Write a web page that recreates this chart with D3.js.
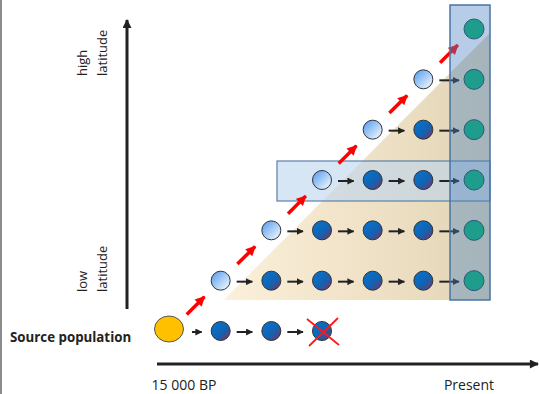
<!DOCTYPE html>
<meta charset="utf-8">
<style>
body { margin: 0; background: #fff; }
svg { display: block; font-family: "Open Sans", sans-serif; }
</style>
<body>
<script src="https://d3js.org/d3.v7.min.js"></script>
<script>

// time steps along the x axis, latitude levels along the y axis
var timeSteps = [0, 1, 2, 3, 4, 5, 6];
var timeLabels = ["15 000 BP", "", "", "", "", "", "Present"];
var latitudes = [0, 1, 2, 3, 4, 5, 6];
var latitudeLabels = [["high", "latitude"], ["low", "latitude"]];

// populations: t = time step, lat = latitude level
var sourcePops = [{t: 0, lat: 0}];
var residentPops = [{t: 1, lat: 0}, {t: 2, lat: 0}, {t: 3, lat: 0, extinct: true},
  {t: 2, lat: 1}, {t: 3, lat: 1}, {t: 4, lat: 1}, {t: 5, lat: 1},
  {t: 3, lat: 2}, {t: 4, lat: 2}, {t: 5, lat: 2},
  {t: 4, lat: 3}, {t: 5, lat: 3},
  {t: 5, lat: 4}];
var founderPops = [{t: 1, lat: 1}, {t: 2, lat: 2}, {t: 3, lat: 3}, {t: 4, lat: 4}, {t: 5, lat: 5}];
var presentPops = [{t: 6, lat: 1}, {t: 6, lat: 2}, {t: 6, lat: 3}, {t: 6, lat: 4}, {t: 6, lat: 5}, {t: 6, lat: 6}];

// colonisation steps (red) and persistence steps (black)
var colonisations = [[0, 0], [1, 1], [2, 2], [3, 3], [4, 4], [5, 5]];
var persistence = [[0, 0], [1, 0], [2, 0],
  [1, 1], [2, 1], [3, 1], [4, 1], [5, 1],
  [2, 2], [3, 2], [4, 2], [5, 2],
  [3, 3], [4, 3], [5, 3],
  [4, 4], [5, 4],
  [5, 5]];

var width = 539, height = 394;

var x = d3.scaleLinear().domain([0, 6]).range([170, 474]);
var y = d3.scaleLinear().domain([0, 6]).range([331, 29]);

var svg = d3.select("body").append("svg")
    .attr("width", width)
    .attr("height", height);

var defs = svg.append("defs");

var beige = defs.append("linearGradient").attr("id", "beige")
    .attr("x1", "0").attr("x2", "1").attr("y1", "0").attr("y2", "0");
beige.append("stop").attr("offset", "0").attr("stop-color", "#fdf0db");
beige.append("stop").attr("offset", "1").attr("stop-color", "#e2d5b5");

var dark = defs.append("linearGradient").attr("id", "dark")
    .attr("x1", "0.2").attr("y1", "0.2").attr("x2", "0.9").attr("y2", "0.9");
dark.append("stop").attr("offset", "0").attr("stop-color", "#0a6fc6");
dark.append("stop").attr("offset", "0.55").attr("stop-color", "#1262b2");
dark.append("stop").attr("offset", "1").attr("stop-color", "#6b3b72");

var light = defs.append("linearGradient").attr("id", "light")
    .attr("x1", "0.1").attr("y1", "0.1").attr("x2", "0.9").attr("y2", "0.9");
light.append("stop").attr("offset", "0").attr("stop-color", "#5ea3f0");
light.append("stop").attr("offset", "1").attr("stop-color", "#eef5fd");

function head(id, color, w, h) {
  defs.append("marker").attr("id", id)
      .attr("viewBox", "0 0 10 10").attr("refX", 9).attr("refY", 5)
      .attr("markerUnits", "userSpaceOnUse")
      .attr("markerWidth", w).attr("markerHeight", h)
      .attr("orient", "auto")
    .append("path").attr("d", "M0,0L10,5L0,10Z").attr("fill", color);
}
head("axisHead", "#222", 10, 9);
head("blackHead", "#222", 7, 7);
head("redHead", "#ff0000", 10, 11);

// left page edge
svg.append("line").attr("x1", 1).attr("x2", 1).attr("y1", 0).attr("y2", height)
    .attr("stroke", "#666").attr("stroke-width", 1.5);

// beige triangle of colonised range
svg.append("path")
    .attr("d", "M" + (x(1) + 3) + "," + (y(0) - 31) +
               "L" + (x(6) + 16) + "," + (y(0) - 31) +
               "L" + (x(6) + 16) + "," + (y(6) + 4) + "Z")
    .attr("fill", "url(#beige)");

// horizontal highlight box
svg.append("rect")
    .attr("x", x(3) - 45).attr("y", y(3) - 19)
    .attr("width", x(6) + 16 - (x(3) - 45)).attr("height", 40)
    .attr("fill", "#bcd6ee").attr("fill-opacity", 0.6)
    .attr("stroke", "#5a80a8").attr("stroke-width", 1.2);

// axes
svg.append("line").attr("x1", 127).attr("x2", 127).attr("y1", 309).attr("y2", 20)
    .attr("stroke", "#222").attr("stroke-width", 3).attr("marker-end", "url(#axisHead)");
svg.append("line").attr("x1", 157).attr("x2", 538).attr("y1", 364).attr("y2", 364)
    .attr("stroke", "#222").attr("stroke-width", 3).attr("marker-end", "url(#axisHead)");

// black arrows
svg.selectAll(".step").data(persistence).enter().append("line")
    .attr("class", "step")
    .attr("x1", function(d) { return x(d[0]) + (d[0] === 0 ? 22 : 16); })
    .attr("x2", function(d) { return x(d[0] + 1) - (d[0] + 1 === 6 ? 15 : 19); })
    .attr("y1", function(d) { return y(d[1]) + 1; })
    .attr("y2", function(d) { return y(d[1]) + 1; })
    .attr("stroke", "#222").attr("stroke-width", 2)
    .attr("marker-end", "url(#blackHead)");

// red colonisation arrows
svg.selectAll(".colon").data(colonisations).enter().append("line")
    .attr("class", "colon")
    .attr("x1", function(d) { return x(d[0]) + (x(d[0] + 1) - x(d[0])) * 0.33; })
    .attr("y1", function(d) { return y(d[1]) + (y(d[1] + 1) - y(d[1])) * 0.33; })
    .attr("x2", function(d) { return x(d[0]) + (x(d[0] + 1) - x(d[0])) * 0.68; })
    .attr("y2", function(d) { return y(d[1]) + (y(d[1] + 1) - y(d[1])) * 0.68; })
    .attr("stroke", "#ff0000").attr("stroke-width", 3.5)
    .attr("marker-end", "url(#redHead)");

// populations
svg.selectAll(".source").data(sourcePops).enter().append("ellipse")
    .attr("cx", function(d) { return x(d.t) - 1; })
    .attr("cy", function(d) { return y(d.lat) - 2; })
    .attr("rx", 14.5).attr("ry", 13)
    .attr("fill", "#ffc000").attr("stroke", "#555").attr("stroke-width", 1);

svg.selectAll(".resident").data(residentPops).enter().append("circle")
    .attr("cx", function(d) { return x(d.t); })
    .attr("cy", function(d) { return y(d.lat); })
    .attr("r", 9.5)
    .attr("fill", "url(#dark)").attr("stroke", "#333").attr("stroke-width", 1);

svg.selectAll(".founder").data(founderPops).enter().append("circle")
    .attr("cx", function(d) { return x(d.t); })
    .attr("cy", function(d) { return y(d.lat); })
    .attr("r", 9.5)
    .attr("fill", "url(#light)").attr("stroke", "#333").attr("stroke-width", 1);

// extinct population cross
residentPops.filter(function(d) { return d.extinct; }).forEach(function(d) {
  var cx = x(d.t), cy = y(d.lat);
  svg.append("path")
      .attr("d", "M" + (cx - 15) + "," + (cy - 12) + "L" + (cx + 17) + "," + (cy + 14) +
                 "M" + (cx + 16) + "," + (cy - 13) + "L" + (cx - 13) + "," + (cy + 15))
      .attr("stroke", "#ff1a1a").attr("stroke-width", 1.8).attr("fill", "none");
});

// vertical present-day box
svg.append("rect")
    .attr("x", x(6) - 24).attr("y", 5)
    .attr("width", 40).attr("height", y(0) - 31 - 5)
    .attr("fill", "#4a82c4").attr("fill-opacity", 0.4)
    .attr("stroke", "#4a74a4").attr("stroke-width", 1.5);

svg.selectAll(".present").data(presentPops).enter().append("circle")
    .attr("cx", function(d) { return x(d.t); })
    .attr("cy", function(d) { return y(d.lat); })
    .attr("r", 10)
    .attr("fill", "#1e9d8c").attr("stroke", "#2e5a78").attr("stroke-width", 1);

// latitude labels
var latG = svg.selectAll(".lat").data(latitudeLabels).enter().append("text")
    .attr("transform", function(d, i) {
      return "translate(0," + (i === 0 ? 76 : 292) + ") rotate(-90)";
    })
    .attr("font-size", 13).attr("fill", "#222");
latG.append("tspan").attr("x", 0).attr("y", 87).text(function(d) { return d[0]; });
latG.append("tspan").attr("x", 0).attr("y", 107).text(function(d) { return d[1]; });

svg.append("text").attr("x", 10).attr("y", 342)
    .attr("font-size", 13.3).attr("font-weight", "bold").attr("fill", "#222")
    .text("Source population");

// time labels
svg.selectAll(".tlab").data(timeSteps).enter().append("text")
    .attr("x", function(d) { return x(d) + (d === 0 ? 14 : -5); })
    .attr("y", 390)
    .attr("text-anchor", "middle")
    .attr("font-size", 14).attr("fill", "#222")
    .text(function(d, i) { return timeLabels[i]; });

</script>
</body>
